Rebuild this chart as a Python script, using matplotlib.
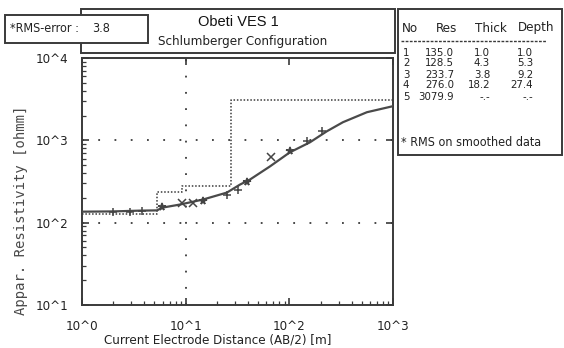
import matplotlib
matplotlib.use('Agg')
import matplotlib.pyplot as plt
from matplotlib import font_manager as fm
from matplotlib.patches import Rectangle
from matplotlib.ticker import NullFormatter, LogLocator
import numpy as np

station = 'Obeti VES 1'
config = 'Schlumberger Configuration'
rms_error = 3.8

# inverted layer model
layer_no = [1, 2, 3, 4, 5]
layer_res = [135.0, 128.5, 233.7, 276.0, 3079.9]
layer_thick = [1.0, 4.3, 3.8, 18.2]
layer_depth = [1.0, 5.3, 9.2, 27.4]

# field readings (AB/2, apparent resistivity, plot symbol)
ab2 = [1.99, 2.90, 3.79, 5.91, 9.2, 11.8, 14.7, 25.0, 31.9, 39.0, 66.4, 101, 148, 206]
rho_a = [136, 136, 140, 157, 171, 175, 185, 219, 252, 308, 621, 735, 973, 1288]
symbols = ['+', '+', '+', '*', 'x', 'x', '*', '+', '+', '*', 'x', '*', '+', '+']

# computed model response
curve_ab2 = [1.0, 2.0, 3.63, 5.3, 5.91, 8.81, 14.7, 25.0, 33.4, 41.7, 65.0, 101, 158, 230, 329, 560, 1000]
curve_rho = [136, 137, 140, 141, 152, 166, 191, 232, 290, 334, 482, 714, 946, 1288, 1660, 2195, 2600]

x_ticks = [1, 10, 100, 1000]
x_tick_labels = ['10^0', '10^1', '10^2', '10^3']
y_ticks = [10, 100, 1000, 10000]
y_tick_labels = ['10^1', '10^2', '10^3', '10^4']

W, H = 564, 348
ink = '#3a3a3a'
txt = '#222222'

# pick a narrow face if there is one
faces = fm.fontManager.ttflist
if any(f.name == 'Liberation Sans Narrow' for f in faces):
    cf = dict(family='Liberation Sans Narrow')
    k = 1.0
elif any(f.name == 'DejaVu Sans' and f.stretch == 'condensed' for f in faces):
    cf = dict(family='DejaVu Sans', fontstretch='condensed')
    k = 0.95
else:
    cf = dict(family='Liberation Sans')
    k = 0.84
mono = ['DejaVu Sans Mono']

def fx(px):
    return px / W

def fy(py):
    return 1 - py / H

fig = plt.figure(figsize=(W / 100, H / 100), dpi=100)
fig.patch.set_facecolor('white')

def box(x0, y0, x1, y1):
    r = Rectangle((fx(x0), fy(y1)), (x1 - x0) / W, (y1 - y0) / H,
                  transform=fig.transFigure, facecolor='white',
                  edgecolor=ink, lw=1.4, zorder=2)
    fig.patches.append(r)

def put(px, py, s, size, ha='left', va='center', **kw):
    fig.text(fx(px), fy(py), s, fontsize=size * k, color=txt, ha=ha, va=va,
             zorder=3, **cf, **kw)

ax = fig.add_axes([fx(82), fy(305), (393 - 82) / W, (305 - 58) / H])
ax.set_xscale('log')
ax.set_yscale('log')
ax.set_xlim(1, 1000)
ax.set_ylim(10, 10000)

# dotted grid
for g in [100, 1000]:
    ax.axhline(g, color=ink, lw=1.3, ls=(0, (1, 8)), zorder=1)
ax.axvline(10, color=ink, lw=1.3, ls=(0, (1, 8)), zorder=1)

# layer model as steps
step_x = np.r_[layer_depth, 1000]
step_y = np.r_[layer_res[1:], layer_res[-1]]
ax.step(step_x, step_y, where='post', color=ink, lw=1.1, ls=(0, (1, 1.2)), zorder=2)

# model curve
ax.plot(curve_ab2, curve_rho, color='#4a4a4a', lw=1.6, zorder=3)

# field data
for xv, yv, m in zip(ab2, rho_a, symbols):
    ax.plot(xv, yv, marker=m, ms=5.5, mew=1.1, color='#444444', ls='none', zorder=4)

ax.set_xticks(x_ticks, labels=x_tick_labels)
ax.set_yticks(y_ticks, labels=y_tick_labels)
ax.xaxis.set_minor_locator(LogLocator(base=10, subs=np.arange(2, 10)))
ax.yaxis.set_minor_locator(LogLocator(base=10, subs=np.arange(2, 10)))
ax.xaxis.set_minor_formatter(NullFormatter())
ax.yaxis.set_minor_formatter(NullFormatter())
ax.tick_params(which='major', direction='in', length=5, width=1.2, color=ink,
               top=True, right=True, labelsize=10 * k, labelcolor=txt)
ax.tick_params(which='minor', direction='in', length=3, width=0.9, color=ink,
               top=False, right=False)
ax.tick_params(axis='x', pad=11)
ax.tick_params(axis='y', pad=10)
for lab in ax.get_xticklabels() + ax.get_yticklabels():
    lab.set_family(cf['family'])
    if 'fontstretch' in cf:
        lab.set_stretch(cf['fontstretch'])
for s in ax.spines.values():
    s.set_color(ink)
    s.set_linewidth(1.4)

put(218, 340, 'Current Electrode Distance (AB/2) [m]', 10, ha='center')
fig.text(fx(21), fy(210), 'Appar. Resistivity [ohmm]', family=mono, fontsize=10,
         color='#4a4a4a', rotation=90, ha='center', va='center')

# title box, then rms box on top of it
box(81, 9, 395, 53)
fig.text(fx(238), fy(22), station, fontsize=10.5, family=['Liberation Sans', 'DejaVu Sans'],
         color='#111111', ha='center', va='center', zorder=3)
put(243, 42, config, 10, ha='center')
box(5, 15, 148, 43)
put(10, 29, '*RMS-error :', 9.5)
put(92, 29, '%.1f' % rms_error, 9.5)

# layer table
box(398, 9, 562, 155)
hy = 28
put(402, hy, 'No', 10)
put(457, hy, 'Res', 10, ha='right')
put(475, hy, 'Thick', 10)
put(518, hy, 'Depth', 10)
fig.lines.append(plt.Line2D([fx(401), fx(546)], [fy(41), fy(41)], transform=fig.transFigure,
                            color=ink, lw=1.0, ls=(0, (2, 1)), zorder=3))
cell = 8.2 / k
for i, n in enumerate(layer_no):
    ry = 52.5 + i * 11
    thick = '%.1f' % layer_thick[i] if i < len(layer_thick) else '-.-'
    depth = '%.1f' % layer_depth[i] if i < len(layer_depth) else '-.-'
    put(403, ry, str(n), cell)
    put(454, ry, '%.1f' % layer_res[i], cell, ha='right')
    put(490, ry, thick, cell, ha='right')
    put(533, ry, depth, cell, ha='right')
put(401, 143, '* RMS on smoothed data', 9.5)

fig.savefig('out.png', dpi=100, facecolor='white')
